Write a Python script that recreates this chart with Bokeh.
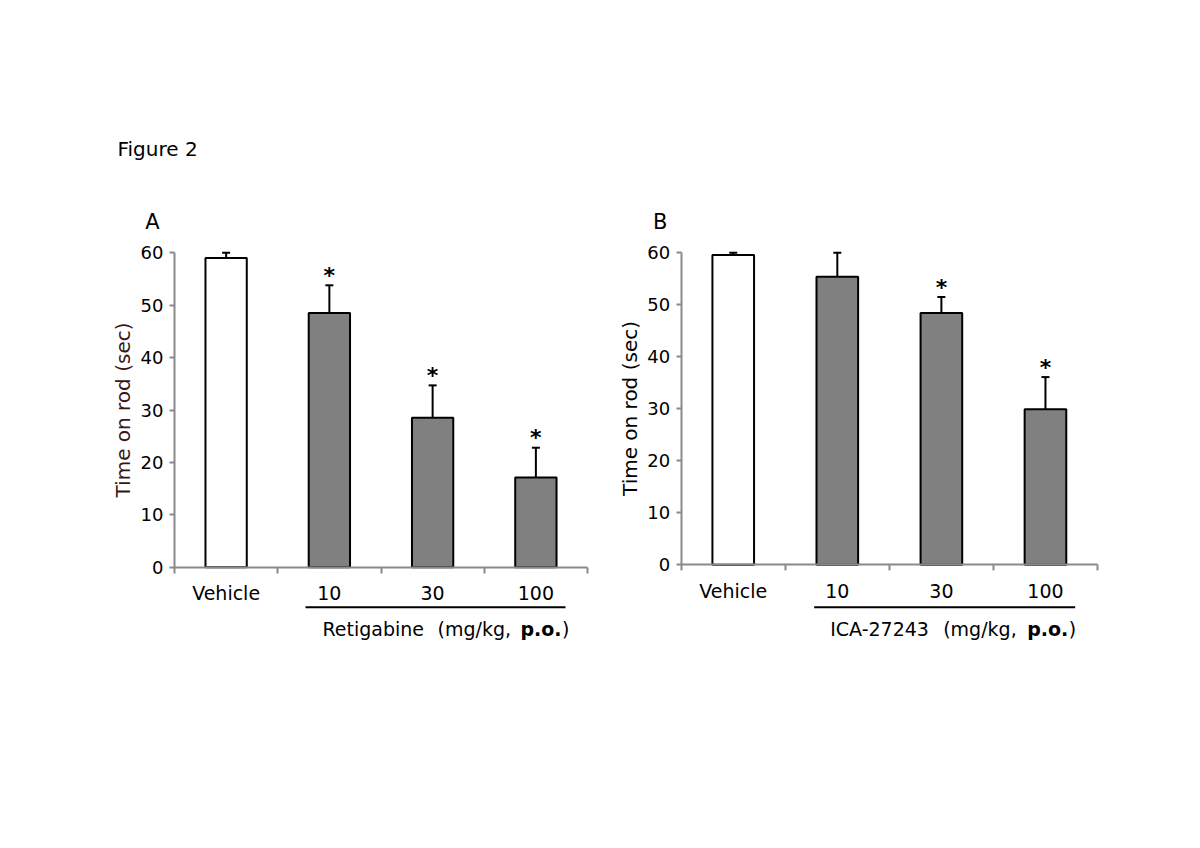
from bokeh.plotting import figure
from bokeh.models import (Range1d, LinearAxis, FixedTicker, ColumnDataSource,
                          Whisker, TeeHead)
from bokeh.layouts import row
from bokeh.core.properties import value
from bokeh.embed import file_html
from bokeh.resources import INLINE

# ---------------- data ----------------
categories = ["Vehicle", "10", "30", "100"]
retig_mean = [59.0, 48.5, 28.5, 17.1]
retig_sem = [1.0, 5.3, 6.2, 5.7]
retig_sig = [False, True, True, True]
ica_mean = [59.6, 55.4, 48.4, 29.9]
ica_sem = [0.4, 4.6, 3.1, 6.2]
ica_sig = [False, False, True, True]
y_ticks = [0, 10, 20, 30, 40, 50, 60]
y_label = "Time on rod (sec)"

FONT = "DejaVu Sans"
AXIS_GRAY = "#8a8a8a"
BAR_GRAY = "#808080"
FIG_W, FIG_H = 592, 832
PAGE_TOP = 0


def make_panel(letter, drug, mean, sem, sig, fig_left, ox, ux, oy, uy,
               label_color, offsets, show_fig_title=False):
    # pixel geometry -> data ranges (x = 0.5 boundary at page px ox, y = 0 at page px oy)
    x0 = 0.5 - (ox - fig_left) / ux
    x1 = 0.5 + (fig_left + FIG_W - ox) / ux
    y1 = (oy - PAGE_TOP) / uy
    y0 = -(PAGE_TOP + FIG_H - oy) / uy

    def dx(px):
        return 0.5 + px / ux

    def dy(py_page):
        return (oy - py_page) / uy

    p = figure(width=FIG_W, height=FIG_H, x_range=Range1d(x0, x1),
               y_range=Range1d(y0, y1), output_backend="svg",
               toolbar_location=None, x_axis_type=None, y_axis_type=None,
               min_border=0, min_border_left=0, min_border_right=0,
               min_border_top=0, min_border_bottom=0)
    p.outline_line_color = None
    p.background_fill_color = "white"
    p.border_fill_color = "white"

    n = len(categories)
    xs = [i + 1 for i in range(n)]
    fills = ["white"] + [BAR_GRAY] * (n - 1)
    upper = [m + s for m, s in zip(mean, sem)]
    src = ColumnDataSource(dict(x=xs, mean=mean, upper=upper, fill=fills))

    p.vbar(x="x", top="mean", bottom=0, width=0.4, source=src,
           fill_color="fill", line_color="black", line_width=2)

    w = Whisker(source=src, base="x", lower="mean", upper="upper",
                dimension="height", line_color="black", line_width=2,
                upper_head=TeeHead(size=8, line_color="black", line_width=2),
                lower_head=None)
    p.add_layout(w)

    sx = [x for x, s in zip(xs, sig) if s]
    sy = [u for u, s in zip(upper, sig) if s]
    p.text(x=sx, y=sy, text=["*"] * len(sx), text_font=value(FONT),
           text_font_size="22px", text_font_style="bold", text_align="center",
           text_baseline="alphabetic", y_offset=-10, text_color="black")

    # x axis
    xaxis = LinearAxis(
        ticker=FixedTicker(ticks=xs, minor_ticks=[i + 0.5 for i in range(n + 1)]),
        bounds=(0.5, n + 0.5), fixed_location=0,
        major_label_overrides={x: c for x, c in zip(xs, categories)},
        major_tick_out=0, major_tick_in=0,
        minor_tick_out=6, minor_tick_in=0,
        minor_tick_line_color=AXIS_GRAY, minor_tick_line_width=2,
        axis_line_color=AXIS_GRAY, axis_line_width=2,
        major_label_text_font=FONT, major_label_text_font_size="19px",
        major_label_text_color="black", major_label_standoff=9)
    p.add_layout(xaxis, "below")

    # y axis
    yaxis = LinearAxis(
        ticker=FixedTicker(ticks=y_ticks, minor_ticks=[]),
        bounds=(0, 60), fixed_location=0.5,
        major_tick_out=5, major_tick_in=0,
        major_tick_line_color=AXIS_GRAY, major_tick_line_width=2,
        minor_tick_line_color=None,
        axis_line_color=AXIS_GRAY, axis_line_width=2,
        major_label_text_font=FONT, major_label_text_font_size="18px",
        major_label_text_color="black", major_label_standoff=6,
        axis_label=y_label, axis_label_text_font=FONT,
        axis_label_text_font_size="20px", axis_label_text_font_style="normal",
        axis_label_text_color=label_color, axis_label_standoff=3)
    p.add_layout(yaxis, "left")

    # panel letter
    p.text(x=[dx(offsets["letter"])], y=[dy(221)], text=[letter],
           text_font=value(FONT), text_font_size="21px", text_align="center",
           text_baseline="middle", text_color="black")

    # group underline
    p.segment(x0=[dx(offsets["line"][0])], y0=[dy(606.7)],
              x1=[dx(offsets["line"][1])], y1=[dy(606.7)],
              line_color="black", line_width=2)

    # group label
    gy = dy(628)
    p.text(x=[dx(offsets["drug"])], y=[gy], text=[drug], text_font=value(FONT),
           text_font_size="19px", text_align="left", text_baseline="middle",
           text_color="black")
    p.text(x=[dx(offsets["unit"])], y=[gy], text=["(mg/kg,"], text_font=value(FONT),
           text_font_size="19px", text_align="left", text_baseline="middle",
           text_color="black")
    p.text(x=[dx(offsets["po"])], y=[gy], text=["p.o."], text_font=value(FONT),
           text_font_size="19px", text_font_style="bold", text_align="left",
           text_baseline="middle", text_color="black")
    p.text(x=[dx(offsets["paren"])], y=[gy], text=[")"], text_font=value(FONT),
           text_font_size="19px", text_align="right", text_baseline="middle",
           text_color="black")

    if show_fig_title:
        p.text(x=[dx(117 - ox)], y=[dy(148)], text=["Figure 2"],
               text_font=value(FONT), text_font_size="20px", text_align="left",
               text_baseline="middle", text_color="black")
    return p


pa = make_panel("A", "Retigabine", retig_mean, retig_sem, retig_sig,
                fig_left=0, ox=174.0, ux=103.25, oy=566.7, uy=5.24,
                label_color="#3a1515",
                offsets=dict(letter=-22, line=(131, 391), drug=148, unit=263,
                             po=346, paren=395),
                show_fig_title=True)
pb = make_panel("B", "ICA-27243", ica_mean, ica_sem, ica_sig,
                fig_left=592, ox=680.7, ux=104.075, oy=564.3, uy=5.2,
                label_color="black",
                offsets=dict(letter=-21, line=(133, 394), drug=149, unit=262,
                             po=346, paren=395))

layout = row(pa, pb, spacing=0)
open("out.html", "w").write(file_html(layout, INLINE))
